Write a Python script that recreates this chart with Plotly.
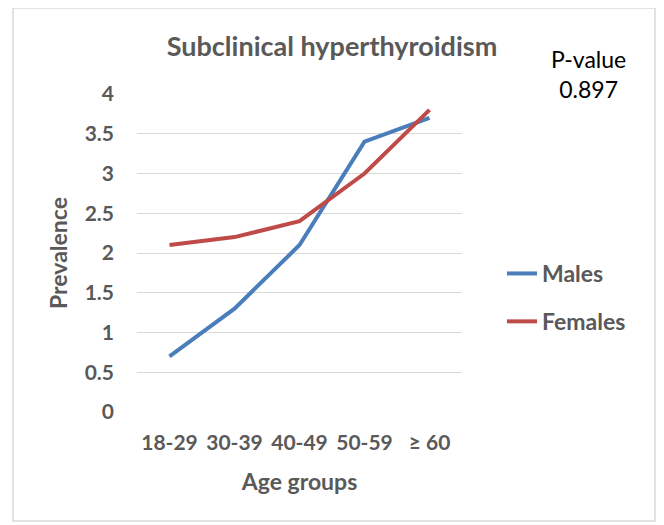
import plotly.graph_objects as go

categories = ["18-29", "30-39", "40-49", "50-59", "≥ 60"]
males = [0.7, 1.3, 2.1, 3.4, 3.7]
females = [2.1, 2.2, 2.4, 3.0, 3.8]
y_ticks = [0, 0.5, 1, 1.5, 2, 2.5, 3, 3.5, 4]
y_tick_text = ["0", "0.5", "1", "1.5", "2", "2.5", "3", "3.5", "4"]

GRAY = "#595959"
FONT = "Lato"
OFF = 8  # page body margin offset

W, H = 664 - OFF, 525 - OFF
L, T, R, B = 137 - OFF, 94 - OFF, W - (462 - OFF), H - (412 - OFF)
PW, PH = W - L - R, H - T - B

fig = go.Figure()
fig.add_trace(go.Scatter(x=categories, y=males, mode="lines", name="<b>Males</b>",
                         line=dict(color="#4A7EBB", width=4), legendgroup="m"))
fig.add_trace(go.Scatter(x=categories, y=females, mode="lines", name="<b>Females</b>",
                         line=dict(color="#BE4B48", width=4), legendgroup="f"))

def px(x):
    return (x - OFF - L) / PW

def py(y):
    return (H - B - (y - OFF)) / PH

fig.update_layout(
    width=W, height=H,
    margin=dict(l=L, r=R, t=T, b=B),
    paper_bgcolor="white", plot_bgcolor="white",
    font=dict(family=FONT, color=GRAY, size=21),
    title=dict(text="<b>Subclinical hyperthyroidism</b>", x=(332 - OFF) / W, xanchor="center",
               y=1 - (47 - OFF) / H, yanchor="middle", font=dict(size=27, color=GRAY, family=FONT)),
    showlegend=True,
    legend=dict(x=px(502), xanchor="left", y=py(252), yanchor="top", tracegroupgap=15,
                font=dict(size=23, color=GRAY, family=FONT), bgcolor="rgba(0,0,0,0)"),
    xaxis=dict(type="category", range=[-0.5, 4.5], showgrid=False, showline=False, zeroline=False,
               ticks="", automargin=False, ticklabelstandoff=16,
               tickfont=dict(size=21, color=GRAY, family=FONT),
               title=dict(text="<b>Age groups</b>", font=dict(size=23, color=GRAY, family=FONT), standoff=20)),
    yaxis=dict(range=[0, 4], tickvals=y_ticks, ticktext=[f"<b>{t}</b>" for t in y_tick_text],
               showgrid=True, gridcolor="#D9D9D9", gridwidth=1, zeroline=False, showline=False,
               ticks="", automargin=False, ticklabelstandoff=22, tickfont=dict(size=21, color=GRAY, family=FONT),
               title=dict(text="<b>Prevalence</b>", font=dict(size=23, color=GRAY, family=FONT), standoff=10)),
    shapes=[dict(type="rect", xref="paper", yref="paper",
                 x0=px(13), x1=px(655), y0=py(521), y1=py(8),
                 line=dict(color="#D9D9D9", width=1.5), fillcolor="rgba(0,0,0,0)")],
    annotations=[dict(text="P-value<br>0.897", xref="paper", yref="paper",
                      x=px(588), y=py(74), xanchor="center", yanchor="middle",
                      showarrow=False, font=dict(size=23, color="#000000", family=FONT),
                      align="center")],
)
fig.update_xaxes(tickvals=categories, ticktext=[f"<b>{c}</b>" for c in categories])

fig.write_html("out.html")
